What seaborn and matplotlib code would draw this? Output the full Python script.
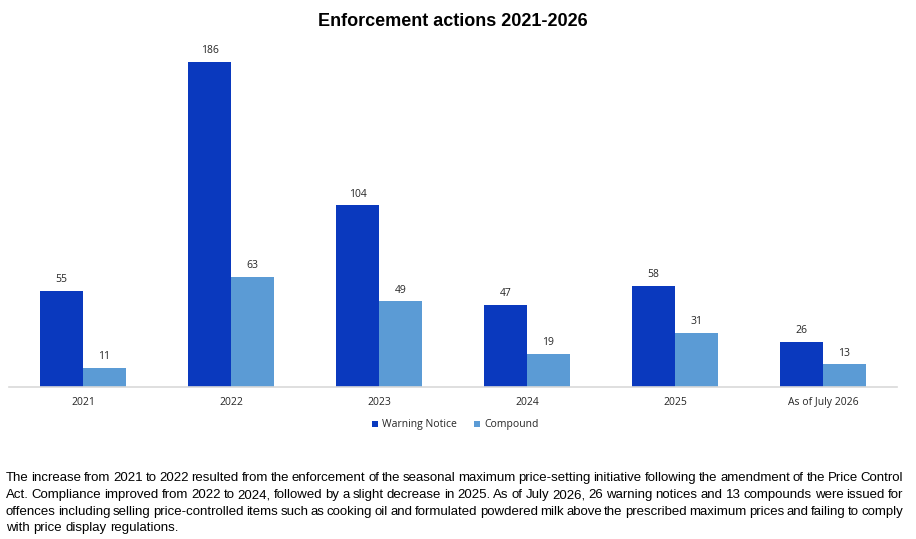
import pandas as pd
import matplotlib
matplotlib.use("Agg")
import matplotlib.pyplot as plt
import seaborn as sns

years = ["2021", "2022", "2023", "2024", "2025", "As of July 2026"]
warning_notice = [55, 186, 104, 47, 58, 26]
compound = [11, 63, 49, 19, 31, 13]
series_names = ["Warning Notice", "Compound"]
colors = ["#0A39BE", "#5B9BD5"]

title = "Enforcement actions 2021-2026"
note_lines = [
    "The increase from 2021 to 2022 resulted from the enforcement of the seasonal maximum price-setting initiative following the amendment of the Price Control",
    "Act. Compliance improved from 2022 to 2024, followed by a slight decrease in 2025. As of July 2026, 26 warning notices and 13 compounds were issued for",
    "offences including selling price-controlled items such as cooking oil and formulated powdered milk above the prescribed maximum prices and failing to comply",
    "with price display regulations.",
]

df = pd.DataFrame({
    "year": years * 2,
    "series": [series_names[0]] * len(years) + [series_names[1]] * len(years),
    "value": warning_notice + compound,
})

sns.set_theme(style="white")
plt.rcParams["font.family"] = ["Open Sans", "DejaVu Sans"]
narrow = ["Liberation Sans Narrow", "Liberation Sans", "DejaVu Sans"]
label_color = "#262626"

W, H = 916, 539
fig = plt.figure(figsize=(W / 100, H / 100), dpi=100)
ax = fig.add_axes([9 / W, 1 - 387 / H, 888 / W, 347 / H])

sns.barplot(data=df, x="year", y="value", hue="series", palette=colors,
            width=0.575, gap=0, saturation=1, linewidth=0, ax=ax, legend=True)

ax.set_ylim(0, 198.6)
ax.set_xlim(-0.5, len(years) - 0.5)
ax.set_xlabel("")
ax.set_ylabel("")
ax.set_yticks([])
for s in ["top", "right", "left"]:
    ax.spines[s].set_visible(False)
ax.spines["bottom"].set_color("#D9D9D9")
ax.spines["bottom"].set_linewidth(1.2)
ax.tick_params(axis="x", length=0, pad=7, labelsize=7.5, colors=label_color)

for cont in ax.containers:
    ax.bar_label(cont, padding=4, fontsize=7.5, color=label_color)

handles, labels = ax.get_legend_handles_labels()
ax.legend(handles, labels, loc="center", bbox_to_anchor=(455 / W, 1 - 425 / H),
          bbox_transform=fig.transFigure, ncol=2, frameon=False, fontsize=7.5,
          handlelength=0.6, handleheight=0.6, handletextpad=0.4, columnspacing=1.6,
          labelcolor=label_color)

fig.text(453 / W, 1 - 22 / H, title, ha="center", va="center",
         fontsize=13, fontweight="bold", color="black", family=narrow)

# justified note text below the chart
renderer = fig.canvas.get_renderer()
x0, x1 = 6, 903
fs = 9.5


def text_width(s):
    t = fig.text(0, 0, s, fontsize=fs, family=narrow)
    wd = t.get_window_extent(renderer).width
    t.remove()
    return wd


space = text_width("a a") - text_width("aa")
line_y = [478, 495, 512, 528]
for i, line in enumerate(note_lines):
    words = line.split(" ")
    widths = [text_width(w) for w in words]
    if i < len(note_lines) - 1:
        gap = (x1 - x0 - sum(widths)) / (len(words) - 1)
    else:
        gap = space
    x = x0
    y = 1 - line_y[i] / H
    for w, wd in zip(words, widths):
        fig.text(x / W, y, w, fontsize=fs, ha="left", va="center",
                 color="black", family=narrow)
        x += wd + gap

fig.savefig("out.png", dpi=100)
